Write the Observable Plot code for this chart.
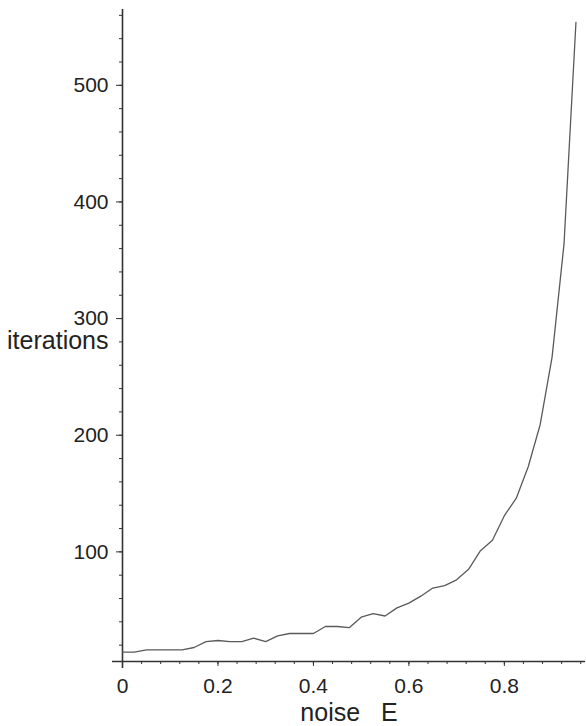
<!DOCTYPE html>
<html>
<head>
<meta charset="utf-8">
<script src="https://cdn.jsdelivr.net/npm/d3@7"></script>
<script src="https://cdn.jsdelivr.net/npm/@observablehq/plot@0.6"></script>
<style>
  html, body { margin: 0; padding: 0; background: #fff; }
</style>
</head>
<body>
<div id="chart"></div>
<script>
const noise = [0, 0.025, 0.05, 0.075, 0.1, 0.125, 0.15, 0.175, 0.2, 0.225, 0.25, 0.275, 0.3, 0.325, 0.35, 0.375, 0.4, 0.425, 0.45, 0.475, 0.5, 0.525, 0.55, 0.575, 0.6, 0.625, 0.65, 0.675, 0.7, 0.725, 0.75, 0.775, 0.8, 0.825, 0.85, 0.875, 0.9, 0.925, 0.95];
const iterations = [14, 14, 16, 16, 16, 16, 18, 23, 24, 23, 23, 26, 23, 28, 30, 30, 30, 36, 36, 35, 44, 47, 45, 52, 56, 62, 69, 71, 76, 85, 101, 110, 131, 146, 173, 209, 267, 364, 554];

const xMajorTicks = [0, 0.2, 0.4, 0.6, 0.8];
const xMinorTicks = [0, 0.04, 0.08, 0.12, 0.16, 0.2, 0.24, 0.28, 0.32, 0.36, 0.4, 0.44, 0.48, 0.52, 0.56, 0.6, 0.64, 0.68, 0.72, 0.76, 0.8, 0.84, 0.88, 0.92, 0.96];
const yMajorTicks = [100, 200, 300, 400, 500];
const yMinorTicks = [20, 40, 60, 80, 100, 120, 140, 160, 180, 200, 220, 240, 260, 280, 300, 320, 340, 360, 380, 400, 420, 440, 460, 480, 500, 520, 540, 560];

const xLabel = "noise\u00a0\u00a0\u00a0E";
const yLabel = "iterations";

const xDomain = [0, 0.97];
const yDomain = [6, 565];

const data = noise.map((x, i) => ({x, y: iterations[i]}));

const axisColor = "#333";

const chart = Plot.plot({
  width: 586,
  height: 726,
  marginLeft: 122,
  marginRight: 1,
  marginTop: 9,
  marginBottom: 65,
  style: {
    background: "#fff",
    fontFamily: "'Liberation Sans', Arial, Helvetica, sans-serif",
    fontSize: "21px",
    color: "#222"
  },
  x: {domain: xDomain, axis: null},
  y: {domain: yDomain, axis: null},
  marks: [
    // axis lines
    Plot.ruleY([yDomain[0]], {x1: -0.021, x2: xDomain[1], stroke: axisColor, strokeWidth: 1.6}),
    Plot.ruleX([0], {y1: 0, y2: yDomain[1], stroke: axisColor, strokeWidth: 1.6}),
    // minor ticks
    Plot.axisX({ticks: xMinorTicks, tickSize: 3, tickFormat: () => "", stroke: axisColor, anchor: "bottom", label: null}),
    Plot.axisY({ticks: yMinorTicks, tickSize: 3, tickFormat: () => "", stroke: axisColor, anchor: "left", label: null}),
    // major ticks with labels
    Plot.axisX({ticks: xMajorTicks, tickSize: 5, tickPadding: 12, tickFormat: d => String(d), stroke: axisColor, fill: "#222", fontSize: 21, anchor: "bottom", label: null}),
    Plot.axisY({ticks: yMajorTicks, tickSize: 6, tickPadding: 8, tickFormat: d => String(d), stroke: axisColor, fill: "#222", fontSize: 21, anchor: "left", label: null}),
    // data line
    Plot.line(data, {x: "x", y: "y", stroke: "#5a5a5a", strokeWidth: 1.3}),
    // axis titles
    Plot.text([xLabel], {frameAnchor: "bottom", text: d => d, dy: 59, dx: -5, fontSize: 25, fill: "#222"}),
    Plot.text([yLabel], {frameAnchor: "left", text: d => d, textAnchor: "end", dx: -14, dy: 5, fontSize: 25, fill: "#222"})
  ]
});

document.getElementById("chart").appendChild(chart);
</script>
</body>
</html>
